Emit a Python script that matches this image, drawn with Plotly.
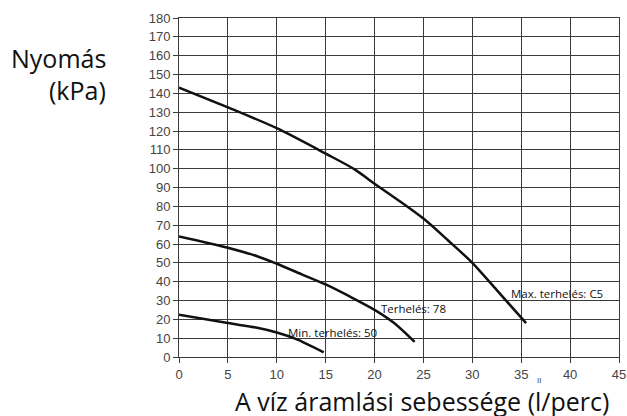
import plotly.graph_objects as go

# Data
max_x = [0, 5, 10, 15, 18, 20, 22.5, 25, 27.5, 30, 32.5, 35.5]
max_y = [143, 132.5, 121.5, 108, 99.5, 92, 83, 73.5, 62, 50, 35.5, 18]

mid_x = [0, 5, 8, 10, 12.5, 15, 17.5, 20, 22, 24.1]
mid_y = [64, 58, 53.5, 49.5, 44, 38.5, 32, 25, 18, 8]

min_x = [0, 5, 8, 10, 12, 14.8]
min_y = [22.5, 18, 15.5, 13, 9.5, 2.5]

labels = ["Max. terhelés: C5", "Terhelés: 78", "Min. terhelés: 50"]
label_x = [33.7, 20.45, 10.9]
label_y = [33.7, 25.8, 13]

x_ticks = list(range(0, 50, 5))
y_ticks = list(range(0, 190, 10))

fig = go.Figure()
for xs, ys in [(max_x, max_y), (mid_x, mid_y), (min_x, min_y)]:
    fig.add_trace(go.Scatter(x=xs, y=ys, mode="lines",
                             line=dict(color="#111111", width=2.5, shape="spline", smoothing=0.8),
                             showlegend=False, hoverinfo="skip"))

for t, lx, ly in zip(labels, label_x, label_y):
    fig.add_annotation(x=lx, y=ly, text=t, showarrow=False, xanchor="left", yanchor="middle",
                       font=dict(family="Open Sans", size=11.5, color="#111111"))

PW, PH = 440, 339
fig.add_annotation(xref="paper", yref="paper", x=(108 - 179) / PW, y=(357 - 58) / PH,
                   text="Nyomás", showarrow=False, xanchor="right", yanchor="middle",
                   font=dict(family="Open Sans", size=25, color="#111111"))
fig.add_annotation(xref="paper", yref="paper", x=(108 - 179) / PW, y=(357 - 90) / PH,
                   text="(kPa)", showarrow=False, xanchor="right", yanchor="middle",
                   font=dict(family="Open Sans", size=25, color="#111111"))
fig.add_annotation(xref="paper", yref="paper", x=(421.5 - 179) / PW, y=(357 - 401) / PH,
                   text="A víz áramlási sebessége (l/perc)", showarrow=False, xanchor="center", yanchor="middle",
                   font=dict(family="Open Sans", size=25, color="#111111"))
fig.add_annotation(xref="paper", yref="paper", x=(539 - 179) / PW, y=(357 - 380) / PH,
                   text="II", showarrow=False, xanchor="center", yanchor="middle",
                   font=dict(family="Liberation Sans", size=8, color="#444444"))

axis_common = dict(showgrid=True, gridcolor="#3a3a3a", gridwidth=1, zeroline=False,
                   showline=True, linecolor="#3a3a3a", linewidth=1, mirror=True,
                   ticks="outside", ticklen=5, tickcolor="#3a3a3a", automargin=False,
                   tickfont=dict(family="Liberation Sans", size=13, color="#444444"))

fig.update_layout(
    width=627, height=416,
    margin=dict(l=179, r=8, t=18, b=59),
    plot_bgcolor="white", paper_bgcolor="white",
    xaxis=dict(range=[0, 45], tickvals=x_ticks, **axis_common),
    yaxis=dict(range=[0, 180], tickvals=y_ticks, **axis_common),
)

fig.write_html("out.html", config={"displayModeBar": False},
               post_script="document.body.style.margin='0';")
